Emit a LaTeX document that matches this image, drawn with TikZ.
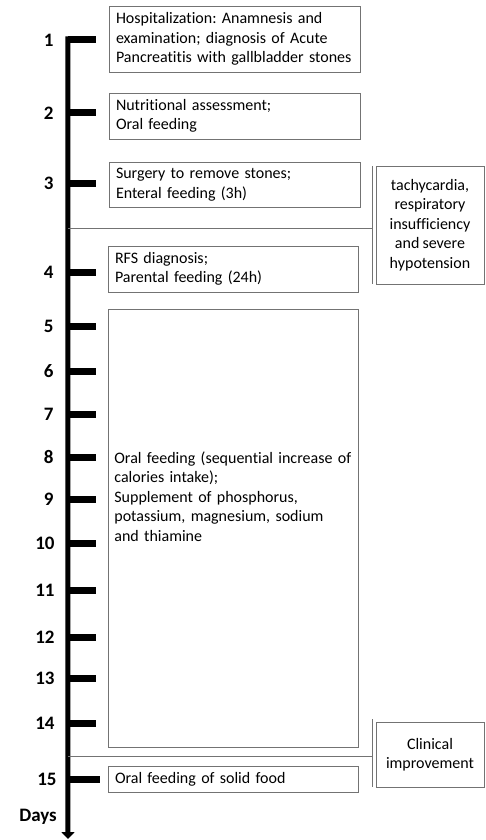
\documentclass[tikz,border=0pt]{standalone}
\usepackage{fontspec}
\setmainfont{Carlito}[Ligatures=NoCommon, WordSpace=0.85]
\usetikzlibrary{positioning,arrows.meta}
\tikzset{
  event/.style={
    rectangle,
    draw=black!55, line width=0.8pt,
    inner xsep=7pt, inner ysep=0pt,
    align=left,
    font=\fontsize{16}{19.5}\selectfont
  },
  effect/.style={
    rectangle,
    draw=black!55, line width=0.8pt,
    inner sep=0pt,
    align=center,
    font=\fontsize{16}{19.5}\selectfont
  },
  tick/.style={
    rectangle, fill=black, inner sep=0pt,
    minimum width=28pt, minimum height=7pt
  },
  day/.style={font=\fontsize{19}{22}\selectfont\bfseries, anchor=east, inner sep=0pt},
  link/.style={draw=black!55, line width=0.8pt},
}
\frenchspacing

\begin{document}
\begin{tikzpicture}[x=1pt,y=-1pt]
\useasboundingbox (0,0) rectangle (486,840);

% ticks of the time axis
\node[tick] (T1) at (82,40) {};
\node[tick] (T2) at (82,113) {};
\node[tick] (T3) at (82,183) {};
\node[tick] (T4) at (82,272) {};
\node[tick] (T5) at (82,326) {};
\node[tick] (T6) at (82,371) {};
\node[tick] (T7) at (82,414) {};
\node[tick] (T8) at (82,457) {};
\node[tick] (T9) at (82,499) {};
\node[tick] (T10) at (82,543) {};
\node[tick] (T11) at (82,590) {};
\node[tick] (T12) at (82,637) {};
\node[tick] (T13) at (82,678) {};
\node[tick] (T14) at (82,723) {};
\node[tick, minimum width=32pt, xshift=2pt] (T15) at (82,779) {};

\node[day, left=14pt of T1.west] (D1) {1};
\node[day, left=14pt of T2.west] (D2) {2};
\node[day, left=14pt of T3.west] (D3) {3};
\node[day, left=14pt of T4.west] (D4) {4};
\node[day, left=14pt of T5.west] (D5) {5};
\node[day, left=14pt of T6.west] (D6) {6};
\node[day, left=14pt of T7.west] (D7) {7};
\node[day, left=14pt of T8.west] (D8) {8};
\node[day, left=14pt of T9.west] (D9) {9};
\node[day, left=13pt of T10.west] (D10) {10};
\node[day, left=13pt of T11.west] (D11) {11};
\node[day, left=13pt of T12.west] (D12) {12};
\node[day, left=13pt of T13.west] (D13) {13};
\node[day, left=13pt of T14.west] (D14) {14};
\node[day, left=11pt of T15.west] (D15) {15};
\node[day] (DAYS) at (57,817) {Days};

% time axis
\coordinate (END) at (68,839);
\draw[line width=5pt, -{Triangle[width=13pt,length=7pt]}] (T1.north west) -- (END);

% events of each day
\node[event, minimum width=251pt, minimum height=66pt, text width=237pt] (EV1) at (234.5,39)
  {Hospitalization: Anamnesis and\\examination; diagnosis of Acute\\Pancreatitis with gallbladder stones};
\node[event, minimum width=251pt, minimum height=46pt, text width=237pt] (EV2) at (234.5,116)
  {Nutritional assessment;\\Oral feeding};
\node[event, minimum width=251pt, minimum height=45pt, text width=237pt] (EV3) at (234.5,184.5)
  {Surgery to remove stones;\\Enteral feeding (3h)};
\node[event, minimum width=250pt, minimum height=46pt, text width=236pt] (EV4) at (233,269)
  {RFS diagnosis;\\Parental feeding (24h)};
\node[event, minimum width=250pt, minimum height=438pt, text width=236pt] (EV5) at (233,528) {};
\node[event, draw=none, anchor=north west, text width=260pt] (EV5TXT) at (107,451)
  {Oral feeding (sequential increase of\\calories intake);\\Supplement of phosphorus,\\potassium, magnesium, sodium\\and thiamine};
\node[event, minimum width=250pt, minimum height=26pt, text width=236pt] (EV6) at (233,779.5)
  {Oral feeding of solid food};

% complications and outcome
\node[effect, minimum width=108pt, minimum height=118pt] (CPL) at (430,225)
  {tachycardia,\\respiratory\\insufficiency\\and severe\\hypotension};
\node[effect, minimum width=108pt, minimum height=65pt] (OUT) at (430,754.5)
  {Clinical\\improvement};

\coordinate (CPLA) at (372,166);
\coordinate (CPLB) at (372,284);
\coordinate (CPLMID) at (372,228);
\coordinate (AXCPL) at (68,228);
\draw[link] (CPLA) -- (CPLB);
\draw[link] (AXCPL) -- (CPLMID);

\coordinate (OUTA) at (372,719);
\coordinate (OUTB) at (372,787);
\coordinate (OUTMID) at (372,756);
\coordinate (AXOUT) at (68,756);
\draw[link] (OUTA) -- (OUTB);
\draw[link] (AXOUT) -- (OUTMID);
\end{tikzpicture}
\end{document}
